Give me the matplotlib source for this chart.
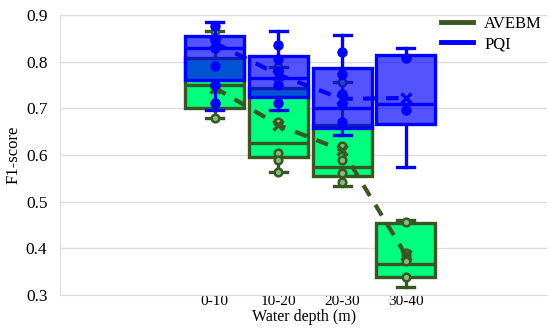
import matplotlib
matplotlib.use("Agg")
import matplotlib.pyplot as plt
from matplotlib.lines import Line2D
import numpy as np

plt.rcParams['font.family'] = ['Liberation Serif', 'DejaVu Serif']

categories = ["0-10", "10-20", "20-30", "30-40"]

# AVEBM box statistics
avebm_q1 = [0.700, 0.596, 0.554, 0.338]
avebm_med = [0.750, 0.625, 0.575, 0.367]
avebm_q3 = [0.807, 0.743, 0.664, 0.454]
avebm_lo = [0.680, 0.564, 0.534, 0.318]
avebm_hi = [0.866, 0.789, 0.757, 0.461]
avebm_mean = [0.744, 0.664, 0.610, 0.386]
avebm_points = [
    [0.866, 0.746, 0.711, 0.679],
    [0.789, 0.670, 0.604, 0.589, 0.564],
    [0.757, 0.620, 0.590, 0.561, 0.543],
    [0.456, 0.391, 0.383, 0.372, 0.338],
]

# PQI box statistics
pqi_q1 = [0.761, 0.725, 0.657, 0.666]
pqi_med = [0.829, 0.764, 0.700, 0.709]
pqi_q3 = [0.854, 0.811, 0.786, 0.814]
pqi_lo = [0.697, 0.697, 0.643, 0.575]
pqi_hi = [0.884, 0.866, 0.857, 0.829]
pqi_mean = [0.840, 0.772, 0.720, 0.722]
pqi_points = [
    [0.876, 0.846, 0.829, 0.790, 0.750, 0.711],
    [0.836, 0.805, 0.780, 0.750, 0.711],
    [0.821, 0.773, 0.730, 0.710, 0.671],
    [0.807, 0.696],
]

green_edge = "#385723"
green_face = "#00FF7F"
blue = "#0000FF"

fig = plt.figure(figsize=(5.5, 3.3), dpi=100)
ax = fig.add_axes([0.109, 0.106, 0.886, 0.849])

pos = np.arange(len(categories))
width = 0.93


def stats(q1, med, q3, lo, hi):
    return [dict(q1=a, med=b, q3=c, whislo=d, whishi=e, fliers=[])
            for a, b, c, d, e in zip(q1, med, q3, lo, hi)]


lw = 2.4
ax.bxp(stats(avebm_q1, avebm_med, avebm_q3, avebm_lo, avebm_hi), positions=pos,
       widths=width, patch_artist=True, showfliers=False,
       boxprops=dict(facecolor=green_face, edgecolor=green_edge, linewidth=lw),
       medianprops=dict(color=green_edge, linewidth=lw),
       whiskerprops=dict(color=green_edge, linewidth=lw),
       capprops=dict(color=green_edge, linewidth=lw), capwidths=0.27,
       zorder=2)

for i, pts in enumerate(avebm_points):
    ax.plot([pos[i]] * len(pts), pts, 'o', ms=5.5, mfc='#7fbf7f', mec=green_edge,
            mew=1.8, zorder=3)
ax.plot(pos, avebm_mean, '--', color=green_edge, lw=3, dashes=(3, 2.5), zorder=3)
ax.plot(pos, avebm_mean, 'x', color=green_edge, ms=7, mew=2.5, zorder=3)

ax.bxp(stats(pqi_q1, pqi_med, pqi_q3, pqi_lo, pqi_hi), positions=pos,
       widths=width, patch_artist=True, showfliers=False,
       boxprops=dict(facecolor=(0, 0, 1, 0.67), edgecolor=blue, linewidth=lw),
       medianprops=dict(color=blue, linewidth=lw),
       whiskerprops=dict(color=blue, linewidth=lw),
       capprops=dict(color=blue, linewidth=lw), capwidths=0.27,
       zorder=4)

for i, pts in enumerate(pqi_points):
    ax.plot([pos[i]] * len(pts), pts, 'o', ms=6.5, color=blue, zorder=5)
ax.plot(pos, pqi_mean, '--', color=blue, lw=3, dashes=(3, 2.5), zorder=5)
ax.plot(pos, pqi_mean, 'x', color=blue, ms=7, mew=2.5, zorder=5)

ax.set_xlim(-2.43, 5.22)
ax.set_ylim(0.3, 0.9)
ax.set_xticks(pos)
ax.set_xticklabels(categories, fontsize=11)
ax.set_yticks(np.arange(0.3, 0.91, 0.1))
ax.set_yticklabels([f"{v:.1f}" for v in np.arange(0.3, 0.91, 0.1)], fontsize=12.5)
ax.tick_params(axis='x', length=0, pad=0)
ax.tick_params(axis='y', length=0, pad=9)
ax.grid(axis='y', color='#dddddd', lw=1, zorder=0)
ax.set_axisbelow(True)
for s in ['top', 'right']:
    ax.spines[s].set_visible(False)
for s in ['left', 'bottom']:
    ax.spines[s].set_color('#dddddd')
ax.set_xlabel("Water depth (m)", fontsize=11.5, labelpad=1)
ax.set_ylabel("F1-score", fontsize=12, labelpad=3)

handles = [Line2D([], [], color=green_edge, lw=3.5),
           Line2D([], [], color=blue, lw=3.5)]
ax.legend(handles, ["AVEBM", "PQI"], loc='upper right', frameon=False,
          fontsize=12, bbox_to_anchor=(1.02, 1.05), handlelength=1.9,
          labelspacing=0.25, handletextpad=0.7)

fig.savefig("out.png", dpi=100)
